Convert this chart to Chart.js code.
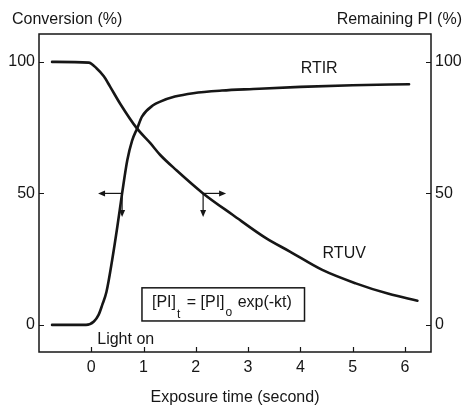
<!DOCTYPE html>
<html>
<head>
<meta charset="utf-8">
<script src="https://cdn.jsdelivr.net/npm/chart.js@4.4.1/dist/chart.umd.min.js"></script>
<style>
  html, body { margin: 0; padding: 0; background: #fff; }
</style>
</head>
<body>
<canvas id="c" width="464" height="405"></canvas>
<script>
// Real-time IR conversion of the monomer (%) versus exposure time (s)
const timeRTIR = [-0.75, -0.1, 0.05, 0.14, 0.21, 0.29, 0.4, 0.5, 0.59, 0.69, 0.78, 0.88, 0.97, 1.19, 1.32, 1.6, 1.95, 2.5, 3.1, 4.0, 5.0, 6.08];
const convRTIR = [0, 0, 1.3, 3.8, 7.6, 12.5, 24.7, 37.5, 50, 62.7, 70, 74.8, 79.2, 83.6, 84.9, 86.8, 88.1, 89.1, 89.7, 90.5, 91.1, 91.5];

// Real-time UV: photoinitiator remaining (%) versus exposure time (s)
const timeRTUV = [-0.75, -0.05, 0.1, 0.24, 0.36, 0.55, 0.87, 1.13, 1.32, 1.63, 2.14, 2.71, 3.35, 3.8, 4.42, 5.06, 5.69, 6.24];
const remRTUV  = [100, 99.7, 97.6, 94.5, 90.6, 84.2, 74.8, 69.1, 64.6, 58.8, 50, 41.8, 32.9, 27.9, 20.9, 15.8, 11.8, 9.2];

// Axis ticks
const xTickValues = [0, 1, 2, 3, 4, 5, 6];
const yTickValues = [0, 50, 100];

// Half-life read-outs: point on each curve, horizontal arrow tip, vertical arrow tip
const readoutTimes   = [0.59, 2.14];
const readoutLevel   = 50;
const readoutSideTip = [0.13, 2.58];
const readoutDownTip = 41;

const INK = '#161616';
const FONT = '"Liberation Sans", Arial, Helvetica, sans-serif';

function toPoints(xs, ys) { return xs.map((x, i) => ({ x: x, y: ys[i] })); }

function arrow(ctx, x0, y0, x1, y1) {
  const ang = Math.atan2(y1 - y0, x1 - x0);
  const head = 7, half = 3;
  ctx.beginPath();
  ctx.moveTo(x0, y0);
  ctx.lineTo(x1 - Math.cos(ang) * head * 0.8, y1 - Math.sin(ang) * head * 0.8);
  ctx.stroke();
  ctx.beginPath();
  ctx.moveTo(x1, y1);
  ctx.lineTo(x1 - Math.cos(ang) * head - Math.sin(ang) * half, y1 - Math.sin(ang) * head + Math.cos(ang) * half);
  ctx.lineTo(x1 - Math.cos(ang) * head + Math.sin(ang) * half, y1 - Math.sin(ang) * head - Math.cos(ang) * half);
  ctx.closePath();
  ctx.fill();
}

const decorations = {
  id: 'decorations',
  afterDatasetsDraw(chart) {
    const { ctx, chartArea: a, scales } = chart;
    const xs = scales.x, ys = scales.y, ys2 = scales.y2;
    ctx.save();
    ctx.strokeStyle = INK;
    ctx.fillStyle = INK;

    // frame
    ctx.lineWidth = 1.5;
    ctx.strokeRect(a.left, a.top, a.right - a.left, a.bottom - a.top);

    // inward tick marks
    ctx.lineWidth = 1.2;
    ctx.beginPath();
    xTickValues.forEach(v => {
      const px = Math.round(xs.getPixelForValue(v)) + 0.5;
      ctx.moveTo(px, a.bottom); ctx.lineTo(px, a.bottom - 5);
    });
    yTickValues.forEach(v => {
      const py = Math.round(ys.getPixelForValue(v)) + 0.5;
      ctx.moveTo(a.left, py); ctx.lineTo(a.left + 5, py);
      const py2 = Math.round(ys2.getPixelForValue(v)) + 0.5;
      ctx.moveTo(a.right, py2); ctx.lineTo(a.right - 5, py2);
    });
    ctx.stroke();

    // read-out arrows at 50 %
    ctx.lineWidth = 1.2;
    readoutTimes.forEach((t, i) => {
      const px = xs.getPixelForValue(t), py = ys.getPixelForValue(readoutLevel);
      arrow(ctx, px, py, xs.getPixelForValue(readoutSideTip[i]), py);
      arrow(ctx, px, py, px, ys.getPixelForValue(readoutDownTip));
    });

    // curve labels
    ctx.font = '16px ' + FONT;
    ctx.textBaseline = 'middle';
    ctx.textAlign = 'center';
    ctx.fillText('RTIR', xs.getPixelForValue(4.36), ys.getPixelForValue(97.3));
    ctx.fillText('RTUV', xs.getPixelForValue(4.84), ys.getPixelForValue(27));

    // "Light on" marker text
    ctx.textAlign = 'left';
    ctx.textBaseline = 'alphabetic';
    ctx.fillText('Light on', xs.getPixelForValue(0) + 6, a.bottom - 8);

    // rate-law box
    const bl = xs.getPixelForValue(0.97), br = xs.getPixelForValue(4.08);
    const bt = ys.getPixelForValue(14.1), bb = ys.getPixelForValue(1.5);
    ctx.lineWidth = 1.5;
    ctx.strokeRect(bl, bt, br - bl, bb - bt);
    const base = bb - 13.5;
    let cx = bl + 10;
    const big = '16px ' + FONT, small = '12px ' + FONT;
    ctx.font = big; ctx.fillText('[PI]', cx, base); cx += ctx.measureText('[PI]').width + 1;
    ctx.font = small; ctx.fillText('t', cx, base + 11); cx += ctx.measureText('t').width + 2;
    ctx.font = big; ctx.fillText(' = [PI]', cx, base); cx += ctx.measureText(' = [PI]').width + 1;
    ctx.font = small; ctx.fillText('o', cx, base + 9); cx += ctx.measureText('o').width + 1;
    ctx.font = big; ctx.fillText(' exp(-kt)', cx, base);

    // axis titles above the frame
    ctx.font = '16px ' + FONT;
    ctx.textBaseline = 'alphabetic';
    ctx.textAlign = 'left';
    ctx.fillText('Conversion (%)', 12, 24);
    ctx.textAlign = 'right';
    ctx.fillText('Remaining PI (%)', chart.width - 2, 24);
    ctx.restore();
  }
};

const fixedTicks = vals => scale => { scale.ticks = vals.map(v => ({ value: v })); };
const noGrid = { display: false, drawTicks: false, tickLength: 0 };

new Chart(document.getElementById('c'), {
  type: 'line',
  data: {
    datasets: [
      {
        label: 'RTIR',
        data: toPoints(timeRTIR, convRTIR),
        yAxisID: 'y',
        borderColor: INK,
        borderWidth: 2.6,
        pointRadius: 0,
        cubicInterpolationMode: 'monotone',
        borderCapStyle: 'round',
        fill: false
      },
      {
        label: 'RTUV',
        data: toPoints(timeRTUV, remRTUV),
        yAxisID: 'y2',
        borderColor: INK,
        borderWidth: 2.6,
        pointRadius: 0,
        cubicInterpolationMode: 'monotone',
        borderCapStyle: 'round',
        fill: false
      }
    ]
  },
  options: {
    responsive: false,
    animation: false,
    events: [],
    layout: { padding: { top: 34, left: 0, right: 0, bottom: 0 } },
    plugins: { legend: { display: false }, tooltip: { enabled: false }, title: { display: false } },
    scales: {
      x: {
        type: 'linear',
        min: -1, max: 6.5,
        afterBuildTicks: fixedTicks(xTickValues),
        afterFit: s => { s.height = 53; },
        grid: noGrid,
        border: { display: false },
        ticks: { color: INK, font: { family: FONT, size: 16 }, padding: 6, maxRotation: 0 },
        title: { display: true, text: 'Exposure time (second)', color: INK, font: { family: FONT, size: 16 }, padding: { top: 0, bottom: -2 } }
      },
      y: {
        position: 'left',
        min: -10.3, max: 110.6,
        afterBuildTicks: fixedTicks(yTickValues),
        afterFit: s => { s.width = 39; },
        grid: noGrid,
        border: { display: false },
        ticks: { color: INK, font: { family: FONT, size: 16 }, padding: 4 }
      },
      y2: {
        position: 'right',
        min: -10.3, max: 110.6,
        afterBuildTicks: fixedTicks(yTickValues),
        afterFit: s => { s.width = 33; },
        grid: noGrid,
        border: { display: false },
        ticks: { color: INK, font: { family: FONT, size: 16 }, padding: 4 }
      }
    }
  },
  plugins: [decorations]
});
</script>
</body>
</html>
